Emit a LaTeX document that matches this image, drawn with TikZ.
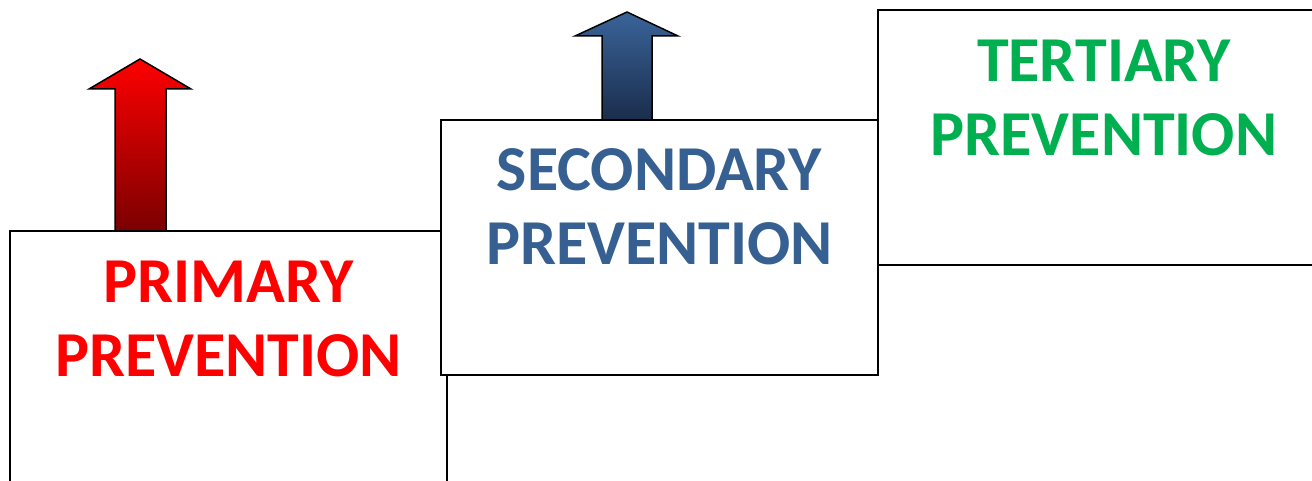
\documentclass[tikz,border=0pt]{standalone}
\usepackage{fontspec}
\setmainfont{Carlito}
\definecolor{pred}{HTML}{FF0000}
\definecolor{pdarkred}{HTML}{7A0000}
\definecolor{pblue}{HTML}{376092}
\definecolor{pbluetop}{HTML}{3A6499}
\definecolor{pbluebot}{HTML}{1A2D4C}
\definecolor{pgreen}{HTML}{00B050}
\tikzset{
  stepbox/.style={draw=black, line width=2pt, fill=white},
  label/.style={font=\fontsize{64}{74}\selectfont\bfseries, align=center, inner sep=0pt},
  uparrow/.style={draw=black, line width=1.5pt, line join=miter},
}
\begin{document}
\begin{tikzpicture}[x=1pt,y=-1pt]
\useasboundingbox (0,0) rectangle (1312,481);
\clip (0,0) rectangle (1312,481);
% boxes
\path[stepbox] (878,10) rectangle (1340,265);
\path[stepbox] (10,231) rectangle (447,500);
\path[stepbox] (441,120) rectangle (878,375);
% arrows
\path[uparrow, top color=pred, bottom color=pdarkred]
  (115,231) -- (115,89) -- (89,89) -- (140,59) -- (191,89) -- (166,89) -- (166,231) -- cycle;
\path[uparrow, top color=pbluetop, bottom color=pbluebot]
  (602,120) -- (602,36) -- (575,36) -- (627,12) -- (678,36) -- (652,36) -- (652,120) -- cycle;
% labels
\node[label, text=pred] (t1a) at (228.5,282) {PRIMARY};
\node[label, text=pred] (t1b) at (228.5,356) {PREVENTION};
\node[label, text=pblue] (t2a) at (659.5,170) {SECONDARY};
\node[label, text=pblue] (t2b) at (659.5,244) {PREVENTION};
\node[label, text=pgreen] (t3a) at (1104,61) {TERTIARY};
\node[label, text=pgreen] (t3b) at (1104,135) {PREVENTION};
\end{tikzpicture}
\end{document}
